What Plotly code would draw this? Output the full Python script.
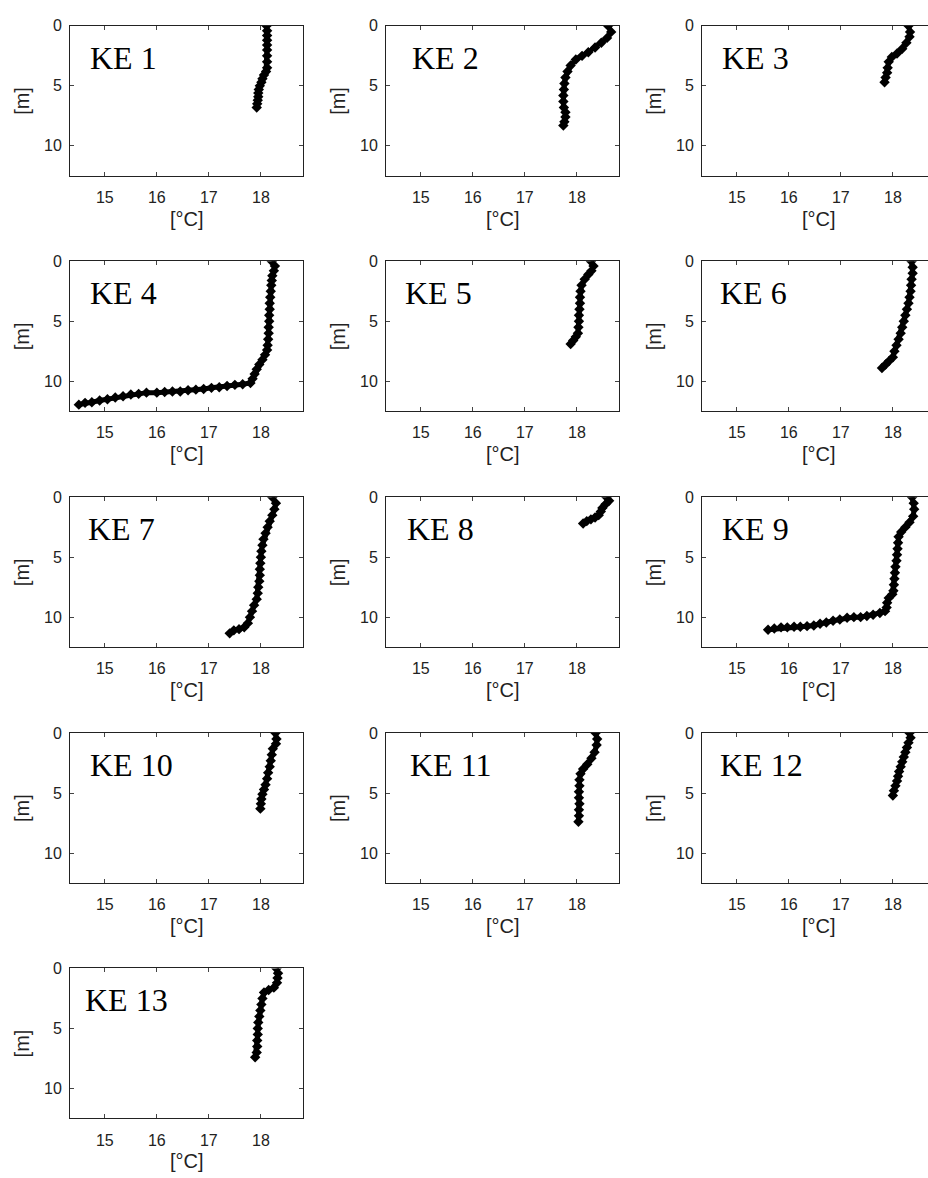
import plotly.graph_objects as go

# ---------------- data (temperature [°C] vs depth [m]) ----------------
STATIONS = ["KE 1", "KE 2", "KE 3", "KE 4", "KE 5", "KE 6", "KE 7",
            "KE 8", "KE 9", "KE 10", "KE 11", "KE 12", "KE 13"]

KE1_T = [18.11, 18.12, 18.12, 18.12, 18.12, 18.12, 18.12, 18.12, 18.12, 18.10, 18.06, 18.03,
         18.01, 17.98, 17.96, 17.95, 17.95, 17.94, 17.93, 17.92]
KE1_D = [0.0, 0.4, 0.8, 1.2, 1.6, 2.0, 2.5, 3.0, 3.5, 3.8, 4.1, 4.4,
         4.7, 5.0, 5.3, 5.6, 5.9, 6.2, 6.5, 6.8]

KE2_T = [18.60, 18.66, 18.58, 18.47, 18.35, 18.22, 18.10, 17.98, 17.88, 17.82, 17.78, 17.76,
         17.75, 17.74, 17.74, 17.75, 17.78, 17.78, 17.76, 17.74]
KE2_D = [0.0, 0.5, 1.0, 1.4, 1.8, 2.2, 2.5, 2.8, 3.3, 3.8, 4.3, 4.8,
         5.3, 5.8, 6.3, 6.8, 7.2, 7.6, 8.0, 8.3]

KE3_T = [18.30, 18.33, 18.32, 18.26, 18.18, 18.08, 17.98, 17.92, 17.90, 17.89, 17.86, 17.84]
KE3_D = [0.0, 0.5, 0.9, 1.4, 1.9, 2.3, 2.6, 3.0, 3.5, 3.9, 4.3, 4.7]

KE4_T = [18.21, 18.27, 18.25, 18.22, 18.21, 18.20, 18.19, 18.18, 18.17, 18.17, 18.16, 18.16,
         18.15, 18.15, 18.14, 18.13, 18.12, 18.08, 18.03, 17.97, 17.92, 17.88, 17.84, 17.80,
         17.65, 17.50, 17.35, 17.20, 17.05, 16.90, 16.75, 16.60, 16.45, 16.30, 16.15, 16.00,
         15.80, 15.65, 15.50, 15.35, 15.20, 15.05, 14.90, 14.75, 14.62, 14.50]
KE4_D = [0.0, 0.4, 0.8, 1.2, 1.6, 2.0, 2.5, 3.0, 3.5, 4.0, 4.5, 5.0,
         5.5, 6.0, 6.5, 7.0, 7.4, 7.8, 8.2, 8.6, 9.0, 9.4, 9.8, 10.15,
         10.25, 10.3, 10.4, 10.5, 10.55, 10.65, 10.7, 10.75, 10.85, 10.85, 10.9, 10.95,
         10.95, 11.05, 11.1, 11.25, 11.35, 11.5, 11.6, 11.75, 11.8, 11.95]

KE5_T = [18.27, 18.32, 18.28, 18.22, 18.15, 18.09, 18.07, 18.06, 18.06, 18.05, 18.04, 18.04,
         18.03, 18.02, 17.98, 17.93, 17.88]
KE5_D = [0.0, 0.4, 0.8, 1.1, 1.5, 2.0, 2.5, 3.0, 3.5, 4.0, 4.5, 5.0,
         5.5, 6.0, 6.3, 6.6, 6.9]

KE6_T = [18.36, 18.38, 18.38, 18.36, 18.35, 18.34, 18.32, 18.30, 18.27, 18.24, 18.21, 18.18,
         18.15, 18.11, 18.07, 18.03, 18.00, 17.93, 17.86, 17.79]
KE6_D = [0.0, 0.5, 1.0, 1.5, 2.0, 2.5, 3.0, 3.5, 4.0, 4.5, 5.0, 5.5,
         6.0, 6.5, 7.0, 7.5, 8.0, 8.3, 8.6, 8.9]

KE7_T = [18.22, 18.29, 18.26, 18.22, 18.17, 18.13, 18.09, 18.05, 18.03, 18.01, 18.00, 17.99,
         17.98, 17.98, 17.97, 17.95, 17.94, 17.92, 17.87, 17.83, 17.79, 17.75, 17.68, 17.58,
         17.48, 17.40]
KE7_D = [0.0, 0.5, 1.0, 1.5, 2.0, 2.5, 3.0, 3.5, 4.0, 4.5, 5.0, 5.5,
         6.0, 6.5, 7.0, 7.5, 8.0, 8.5, 9.0, 9.5, 10.0, 10.5, 10.85, 11.0,
         11.1, 11.35]

KE8_T = [18.57, 18.62, 18.55, 18.49, 18.46, 18.42, 18.35, 18.27, 18.19, 18.12]
KE8_D = [0.0, 0.3, 0.6, 0.9, 1.2, 1.5, 1.7, 1.85, 2.0, 2.2]

KE9_T = [18.37, 18.40, 18.41, 18.39, 18.32, 18.24, 18.16, 18.11, 18.10, 18.09, 18.08, 18.07,
         18.05, 18.04, 18.03, 18.02, 18.01, 17.99, 17.92, 17.89, 17.88, 17.85, 17.75, 17.62,
         17.50, 17.38, 17.25, 17.12, 16.98, 16.85, 16.72, 16.60, 16.48, 16.35, 16.22, 16.10,
         15.97, 15.85, 15.72, 15.60]
KE9_D = [0.0, 0.5, 1.0, 1.6, 2.1, 2.5, 2.9, 3.3, 3.8, 4.3, 4.8, 5.3,
         5.8, 6.3, 6.8, 7.3, 7.8, 8.1, 8.4, 8.8, 9.2, 9.5, 9.65, 9.8,
         9.9, 10.0, 10.0, 10.05, 10.2, 10.3, 10.45, 10.55, 10.7, 10.75, 10.8, 10.8,
         10.85, 10.85, 10.95, 11.05]

KE10_T = [18.28, 18.30, 18.29, 18.23, 18.21, 18.19, 18.17, 18.14, 18.12, 18.09, 18.06, 18.03,
          18.01, 18.00, 17.99]
KE10_D = [0.0, 0.5, 0.9, 1.3, 1.8, 2.3, 2.8, 3.3, 3.8, 4.3, 4.7, 5.1,
          5.5, 5.9, 6.3]

KE11_T = [18.36, 18.39, 18.38, 18.34, 18.28, 18.20, 18.12, 18.07, 18.05, 18.05, 18.04, 18.04,
          18.05, 18.04, 18.04, 18.03]
KE11_D = [0.0, 0.5, 1.0, 1.6, 2.1, 2.6, 3.0, 3.4, 3.9, 4.4, 4.9, 5.4,
          5.9, 6.4, 6.9, 7.4]

KE12_T = [18.32, 18.34, 18.30, 18.27, 18.24, 18.21, 18.18, 18.15, 18.12, 18.10, 18.08, 18.05,
          18.02, 18.00]
KE12_D = [0.0, 0.4, 0.8, 1.2, 1.6, 2.0, 2.4, 2.8, 3.2, 3.6, 4.0, 4.4,
          4.8, 5.2]

KE13_T = [18.30, 18.33, 18.32, 18.31, 18.25, 18.15, 18.06, 18.03, 18.01, 17.99, 17.97, 17.95,
          17.94, 17.94, 17.93, 17.93, 17.92, 17.89]
KE13_D = [0.0, 0.4, 0.8, 1.2, 1.6, 1.8, 2.0, 2.5, 3.0, 3.5, 4.0, 4.5,
          5.0, 5.5, 6.0, 6.5, 7.0, 7.4]

TEMPS = [KE1_T, KE2_T, KE3_T, KE4_T, KE5_T, KE6_T, KE7_T,
         KE8_T, KE9_T, KE10_T, KE11_T, KE12_T, KE13_T]
DEPTHS = [KE1_D, KE2_D, KE3_D, KE4_D, KE5_D, KE6_D, KE7_D,
          KE8_D, KE9_D, KE10_D, KE11_D, KE12_D, KE13_D]

X_TICKS = [15, 16, 17, 18]
Y_TICKS = [0, 5, 10]
X_LABEL = "[°C]"
Y_LABEL = "[m]"
X_RANGE = [14.33, 18.81]
Y_RANGE = [12.5, 0]

# ---------------- layout geometry (pixels) ----------------
W, H = 928, 1178
COL_LEFT = [70, 386, 702]
BOX_W = 233
ROW_TOP = [18, 255, 492.5, 730, 967]
BOX_H = 151
TITLE_DX = [18, 24, 19, 18, 17, 17, 16, 19, 19, 18, 22, 17, 13]

TICK_FONT = dict(family="Liberation Sans, Arial, sans-serif", size=16, color="#222")
LABEL_FONT = dict(family="Liberation Sans, Arial, sans-serif", size=20, color="#222")
TITLE_FONT = dict(family="Liberation Serif, Times New Roman, serif", size=32, color="#000")

fig = go.Figure()
layout = {}
annotations = []

for i, name in enumerate(STATIONS):
    r, c = divmod(i, 3)
    sfx = "" if i == 0 else str(i + 1)
    left = COL_LEFT[c]
    right = left + BOX_W
    xr = list(X_RANGE)
    clipped = right > W
    if clipped:
        xr[1] = X_RANGE[0] + (X_RANGE[1] - X_RANGE[0]) * (W - left) / BOX_W
        right = W
    top = ROW_TOP[r]
    bottom = top + BOX_H

    layout["xaxis" + sfx] = dict(
        domain=[left / W, right / W], range=xr, anchor="y" + sfx,
        tickvals=X_TICKS, ticks="inside", ticklen=4, tickcolor="#444",
        showline=True, linecolor="#222", linewidth=1, mirror="allticks",
        showgrid=False, zeroline=False, tickfont=TICK_FONT, ticklabelstandoff=7,
        fixedrange=True,
    )
    layout["yaxis" + sfx] = dict(
        domain=[1 - bottom / H, 1 - top / H], range=Y_RANGE, anchor="x" + sfx,
        tickvals=Y_TICKS, ticks="inside", ticklen=4, tickcolor="#444",
        showline=True, linecolor="#222", linewidth=1,
        mirror=False if clipped else "allticks",
        showgrid=False, zeroline=False, tickfont=TICK_FONT, ticklabelstandoff=4,
        fixedrange=True,
    )

    fig.add_trace(go.Scatter(
        x=TEMPS[i], y=DEPTHS[i], mode="lines+markers",
        line=dict(color="black", width=5),
        marker=dict(symbol="diamond", size=8, color="black"),
        xaxis="x" + sfx, yaxis="y" + sfx, showlegend=False, hoverinfo="skip",
    ))

    xd = "x" + sfx + " domain"
    yd = "y" + sfx + " domain"
    annotations.append(dict(
        text=name, xref=xd, yref=yd, x=TITLE_DX[i] / BOX_W, y=1, yshift=-32,
        xanchor="left", yanchor="middle", showarrow=False, font=TITLE_FONT,
    ))
    annotations.append(dict(
        text=X_LABEL, xref=xd, yref=yd, x=0.5 if not clipped else (BOX_W / 2) / (W - left),
        y=0, yshift=-43, xanchor="center", yanchor="middle", showarrow=False, font=LABEL_FONT,
    ))
    annotations.append(dict(
        text=Y_LABEL, xref=xd, yref=yd, x=0, xshift=-48, y=0.5,
        xanchor="center", yanchor="middle", textangle=-90, showarrow=False, font=LABEL_FONT,
    ))

fig.update_layout(
    **layout,
    annotations=annotations,
    width=W, height=H,
    margin=dict(l=0, r=0, t=0, b=0),
    paper_bgcolor="white", plot_bgcolor="white",
    showlegend=False,
)

fig.write_html("out.html", config={"displayModeBar": False})
